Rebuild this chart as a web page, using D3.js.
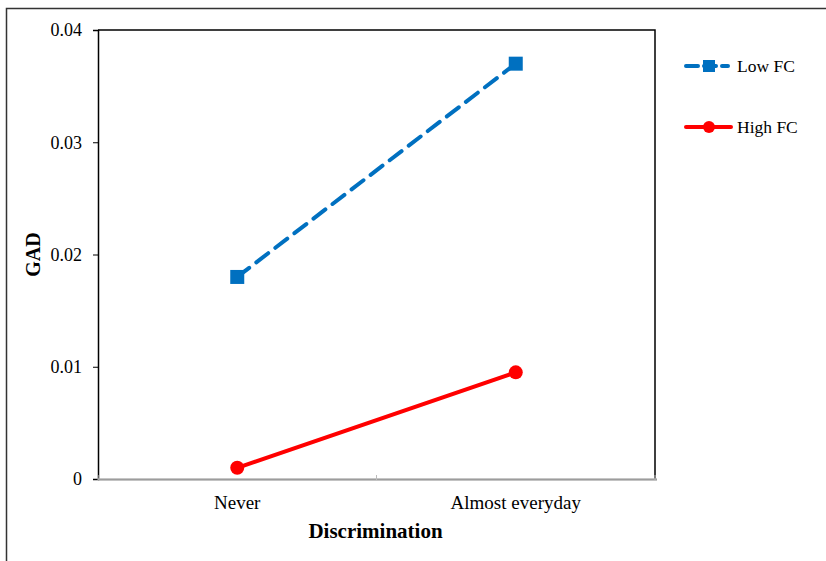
<!DOCTYPE html>
<html>
<head>
<meta charset="utf-8">
<script src="https://cdn.jsdelivr.net/npm/d3@7"></script>
<style>
  body { margin: 0; background: #fff; overflow: hidden; }
  svg { display: block; }
  text { font-family: "Liberation Serif", "Times New Roman", serif; }
</style>
</head>
<body>
<script>
const categories = ['Never', 'Almost everyday'];
const lowFC = [0.018, 0.037];
const highFC = [0.001, 0.0095];
const yTicks = [0, 0.01, 0.02, 0.03, 0.04];
const seriesNames = ['Low FC', 'High FC'];

function plot()
{
    const W = 826, H = 561;
    const m = { left: 98, top: 30, right: 655, bottom: 479 };
    const root = d3.select('body').append('svg')
        .attr('width', W).attr('height', H);

    // outer frame
    root.append('rect')
        .attr('x', 6.5).attr('y', 8.5)
        .attr('width', W + 10).attr('height', H + 10)
        .attr('fill', 'none').attr('stroke', '#333').attr('stroke-width', 1.5);

    const x = d3.scaleBand().domain(categories).range([m.left, m.right]);
    const y = d3.scaleLinear().domain([0, 0.04]).range([m.bottom, m.top]);

    // top and right border of plot area
    root.append('path')
        .attr('d', `M${m.left},${m.top}H${m.right}V${m.bottom}`)
        .attr('fill', 'none').attr('stroke', '#000').attr('stroke-width', 1.5);

    // y axis
    const yAxis = root.append('g')
        .attr('transform', `translate(${m.left},0)`)
        .call(d3.axisLeft(y).tickValues(yTicks).tickSize(5).tickPadding(11)
            .tickFormat(d => d === 0 ? '0' : d3.format('.2f')(d)));
    yAxis.select('.domain').attr('stroke', '#000').attr('stroke-width', 1.5);
    yAxis.selectAll('.tick line').attr('stroke', '#000');
    yAxis.selectAll('text').style('font-size', '18px').attr('fill', '#000')
        .style('font-family', '"Liberation Serif", serif');

    // x axis (gray, ticks at band boundaries)
    const xg = root.append('g').attr('transform', `translate(0,${m.bottom})`);
    xg.append('line')
        .attr('x1', m.left).attr('x2', m.right + 2)
        .attr('y1', 0.5).attr('y2', 0.5)
        .attr('stroke', '#888').attr('stroke-width', 2);
    xg.append('line')
        .attr('x1', m.left).attr('x2', m.right + 2)
        .attr('y1', 0).attr('y2', 0)
        .attr('stroke', '#ccc').attr('stroke-width', 0.6);
    const bounds = categories.map(c => x(c)).concat([x(categories[1]) + x.bandwidth()]);
    xg.selectAll('.bt').data(bounds).enter().append('line')
        .attr('x1', d => d).attr('x2', d => d)
        .attr('y1', -4).attr('y2', 1)
        .attr('stroke', '#bbb').attr('stroke-width', 1);
    xg.selectAll('.lab').data(categories).enter().append('text')
        .attr('x', d => x(d) + x.bandwidth() / 2)
        .attr('y', 30)
        .attr('text-anchor', 'middle')
        .style('font-size', '19px')
        .text(d => d);

    // axis titles
    root.append('text')
        .attr('x', (m.left + m.right) / 2 - 1).attr('y', 538)
        .attr('text-anchor', 'middle')
        .style('font-size', '21px').attr('font-weight', 'bold')
        .text('Discrimination');
    root.append('text')
        .attr('transform', `translate(40,${(m.top + m.bottom) / 2}) rotate(-90)`)
        .attr('text-anchor', 'middle')
        .style('font-size', '20px').attr('font-weight', 'bold')
        .text('GAD');

    const cx = c => x(c) + x.bandwidth() / 2;
    const line = d3.line().x((d, i) => cx(categories[i])).y(d => y(d));

    // Low FC
    root.append('path')
        .attr('d', line(lowFC))
        .attr('fill', 'none').attr('stroke', '#0070C0')
        .attr('stroke-width', 4).attr('stroke-dasharray', '15,9')
        .attr('stroke-linecap', 'round');
    root.selectAll('.sq').data(lowFC).enter().append('rect')
        .attr('x', (d, i) => cx(categories[i]) - 7)
        .attr('y', d => y(d) - 7)
        .attr('width', 14).attr('height', 14)
        .attr('fill', '#0070C0');

    // High FC
    root.append('path')
        .attr('d', line(highFC))
        .attr('fill', 'none').attr('stroke', '#FF0000')
        .attr('stroke-width', 4).attr('stroke-linecap', 'round');
    root.selectAll('.ci').data(highFC).enter().append('circle')
        .attr('cx', (d, i) => cx(categories[i]))
        .attr('cy', d => y(d))
        .attr('r', 7)
        .attr('fill', '#FF0000');

    // legend
    const leg = root.append('g');
    const ly = [66, 127];
    leg.append('line').attr('x1', 686).attr('x2', 728).attr('y1', ly[0]).attr('y2', ly[0])
        .attr('stroke', '#0070C0').attr('stroke-width', 4).attr('stroke-dasharray', '12,6')
        .attr('stroke-linecap', 'round');
    leg.append('rect').attr('x', 703).attr('y', ly[0] - 6).attr('width', 12).attr('height', 12)
        .attr('fill', '#0070C0');
    leg.append('line').attr('x1', 686).attr('x2', 731).attr('y1', ly[1]).attr('y2', ly[1])
        .attr('stroke', '#FF0000').attr('stroke-width', 4).attr('stroke-linecap', 'round');
    leg.append('circle').attr('cx', 709).attr('cy', ly[1]).attr('r', 6).attr('fill', '#FF0000');
    leg.selectAll('.lt').data(seriesNames).enter().append('text')
        .attr('x', 737).attr('y', (d, i) => ly[i] + 6)
        .style('font-size', '17.5px')
        .text(d => d);
}

plot();
</script>
</body>
</html>
